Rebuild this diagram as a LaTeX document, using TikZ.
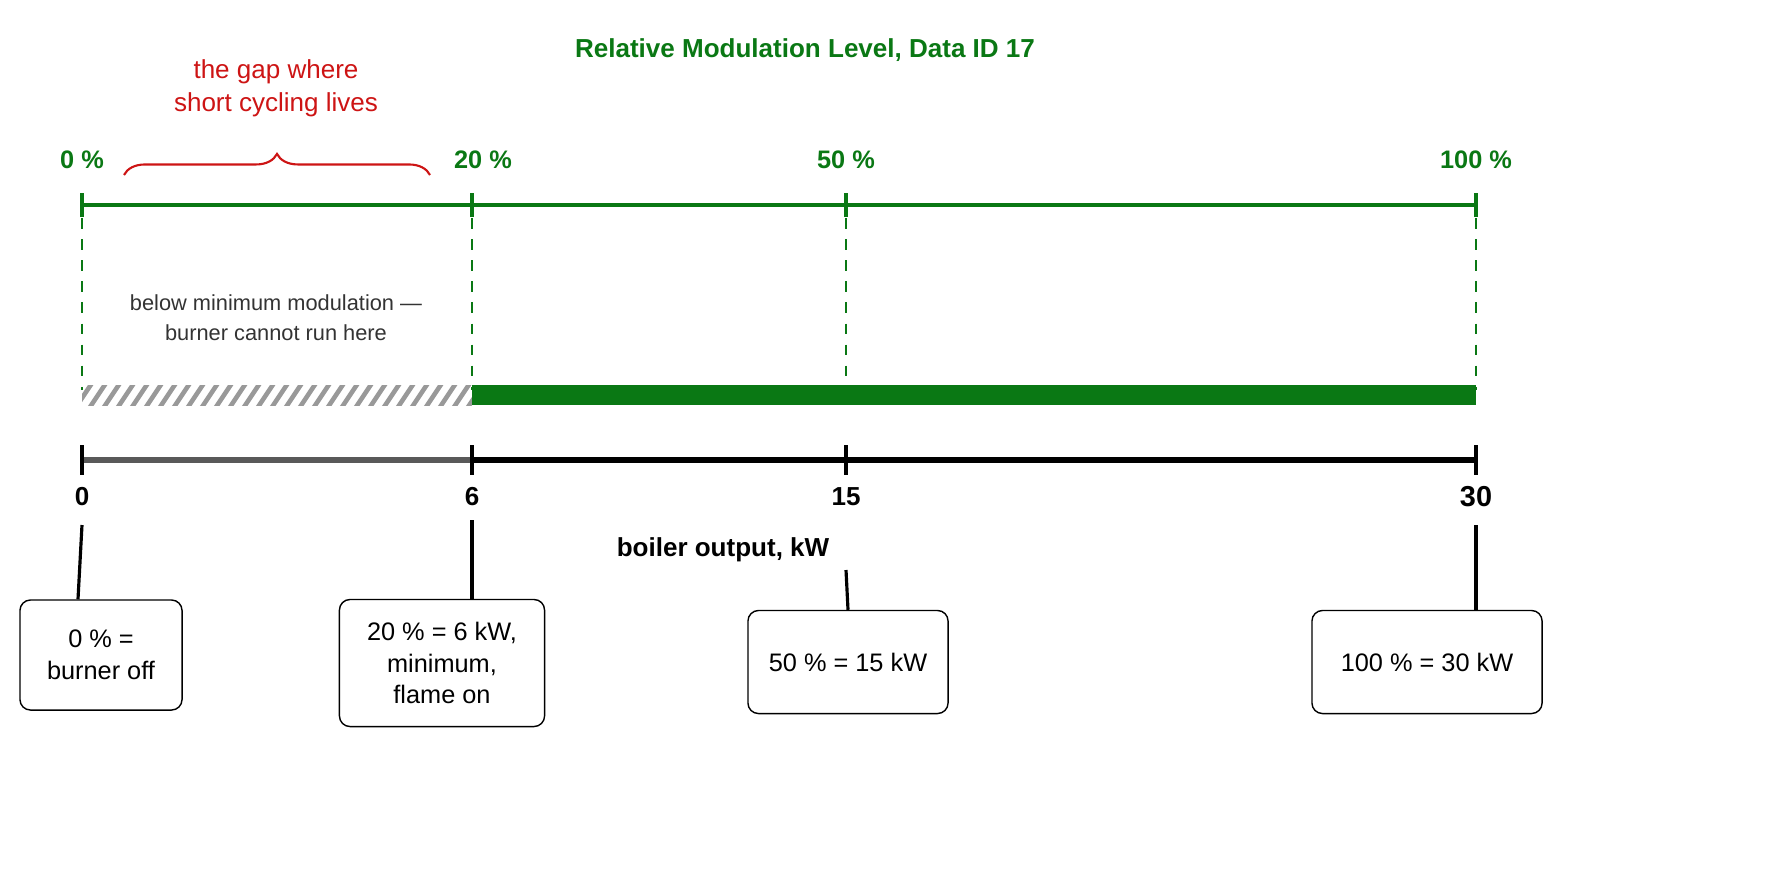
\documentclass[tikz,border=0pt]{standalone}
\usepackage{fontspec}
\setmainfont{Liberation Sans}
\usetikzlibrary{calc, decorations.pathreplacing, positioning}
\definecolor{mgreen}{RGB}{10,120,20}
\definecolor{mred}{RGB}{205,20,20}
\begin{document}
\begin{tikzpicture}[x=0.01cm, y=-0.01cm, font=\fontsize{7.2}{9}\selectfont]
	\tikzstyle{pct} = [text=mgreen, font=\fontsize{7.2}{9}\selectfont\bfseries]
	\tikzstyle{kw} = [font=\fontsize{7.4}{9}\selectfont\bfseries]
	\tikzstyle{callout} = [draw=black, rounded corners=3pt, align=center, inner sep=0pt]
	\tikzstyle{leader} = [black, line width=0.9pt]
	\tikzstyle{guide} = [mgreen, dashed, line width=0.5pt]
	\useasboundingbox (0,0) rectangle (1774,887);

	\node[pct, font=\fontsize{7.4}{9}\selectfont\bfseries] at (805,50) (title) {Relative Modulation Level, Data ID 17};
	\node[text=mred, align=center, font=\fontsize{7.4}{9.5}\selectfont] at (276,88) (gap) {the gap where\\short cycling lives};
	\draw[mred, line width=0.6pt, decorate, decoration={brace, amplitude=6pt}] (124,175) -- (430,175);

	% percent scale
	\node[pct] at (82,160)   (p0)   {0 \%};
	\node[pct] at (483,160)  (p20)  {20 \%};
	\node[pct] at (846,160)  (p50)  {50 \%};
	\node[pct] at (1476,160) (p100) {100 \%};
	\coordinate (t0) at (82,205);
	\coordinate (t20) at (472,205);
	\coordinate (t50) at (846,205);
	\coordinate (t100) at (1476,205);
	\draw[mgreen, line width=1pt] (t0) -- (t100);
	\foreach \t in {t0, t20, t50, t100} {
		\draw[mgreen, line width=1pt] ($(\t)+(0,-12)$) -- ($(\t)+(0,12)$);
		\draw[guide] ($(\t)+(0,13)$) -- ($(\t)+(0,185)$);
	}
	\node[text=black!80, align=center, font=\fontsize{6.2}{8.5}\selectfont] at (276,318) (below) {below minimum modulation —\\burner cannot run here};

	% bars
	\begin{scope}
		\clip (82,385) rectangle (472,405);
		\foreach \i in {0,...,30} \draw[black!40, line width=1.3pt] (60+14*\i,410) -- (80+14*\i,380);
	\end{scope}
	\fill[mgreen] (472,385) rectangle (1476,405);

	% kW axis
	\coordinate (k0) at (82,460);
	\coordinate (k6) at (472,460);
	\coordinate (k15) at (846,460);
	\coordinate (k30) at (1476,460);
	\draw[black!65, line width=1.6pt] (k0) -- (k6);
	\draw[black, line width=1.6pt] (k6) -- (k30);
	\foreach \t in {k0, k6, k15, k30}
		\draw[black, line width=1.2pt] ($(\t)+(0,-15)$) -- ($(\t)+(0,15)$);
	\node[kw] at (82,497)   (n0)  {0};
	\node[kw] at (472,497)  (n6)  {6};
	\node[kw] at (846,497)  (n15) {15};
	\node[kw, font=\fontsize{8.2}{9}\selectfont\bfseries] at (1476,497) (n30) {30};
	\node[kw] at (723,550) (axis) {boiler output, kW};

	% callouts
	\node[callout, minimum width=1.62cm, minimum height=1.10cm] at (101,655)  (c0)   {0 \% =\\burner off};
	\node[callout, minimum width=2.05cm, minimum height=1.27cm] at (442,663)  (c20)  {20 \% = 6 kW,\\minimum,\\flame on};
	\node[callout, minimum width=2.00cm, minimum height=1.03cm] at (848,662)  (c50)  {50 \% = 15 kW};
	\node[callout, minimum width=2.30cm, minimum height=1.03cm] at (1427,662) (c100) {100 \% = 30 kW};
	\coordinate (l0) at (82,525);
	\coordinate (l6) at (472,520);
	\coordinate (l15) at (846,570);
	\coordinate (l30) at (1476,525);
	\draw[leader] (l0)  -- (c0.north -| 78,0);
	\draw[leader] (l6)  -- (c20.north -| l6);
	\draw[leader] (l15) -- (c50.north);
	\draw[leader] (l30) -- (c100.north -| l30);
\end{tikzpicture}
\end{document}
